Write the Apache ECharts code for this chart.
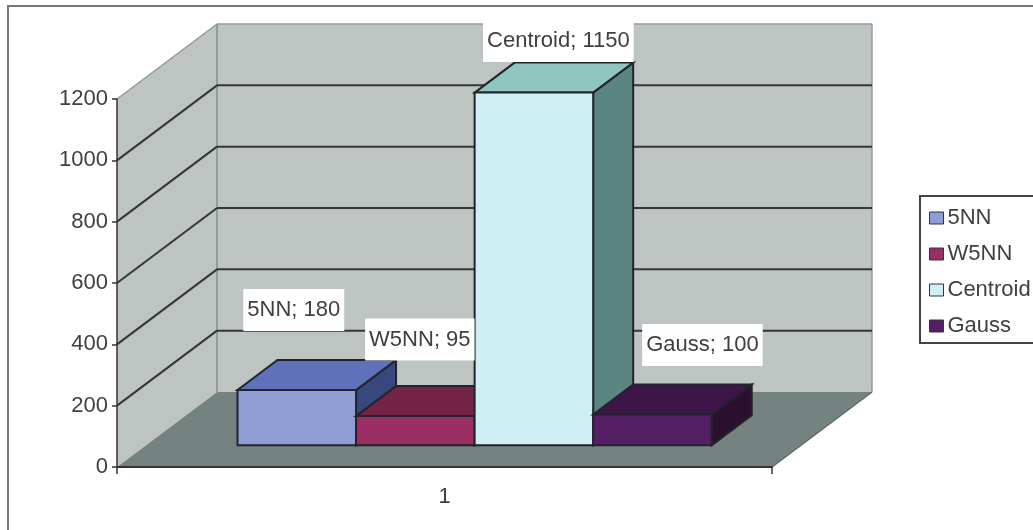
<!DOCTYPE html>
<html>
<head>
<meta charset="utf-8">
<style>
  html, body { margin: 0; padding: 0; background: #fff; }
  #chart { width: 1033px; height: 530px; }
</style>
<script src="https://cdn.jsdelivr.net/npm/echarts@6/dist/echarts.min.js"></script>
</head>
<body>
<div id="chart"></div>
<script>
// Values
const categories = ['1'];
const seriesNames = ['5NN', 'W5NN', 'Centroid', 'Gauss'];
const seriesValues = [180, 95, 1150, 100];
const gridValues = [200, 400, 600, 800, 1000];

// Face colours per series: front, top, side
const frontColors = ['#8E9DD4', '#9B2F63', '#CFEFF5', '#551F66'];
const topColors = ['#6071BC', '#732447', '#90C6C0', '#3E1549'];
const sideColors = ['#38487F', '#4E1830', '#5A8580', '#2B0F2E'];

// Oblique projection of the box: screen shift of the full floor depth
const DEPTH_X = 100;
const DEPTH_Y = -75;
const BAR_DEPTH_FRONT = 0.29;
const BAR_DEPTH_BACK = 0.69;
const BAR_START = 0.1397;
const BAR_SPAN = 0.181;

// Label centre relative to the middle of the bar's front top edge
const labelOffsets = [[-3, -80], [4.5, -76.5], [24.5, -51.5], [50, -69.5]];

const FONT = 'Liberation Sans, Arial, sans-serif';
const FONT_SIZE = 22;
const TEXT_COLOR = '#404040';
const EDGE = '#23232b';

function polygon(points, fill, stroke, width) {
  return {
    type: 'polygon',
    shape: { points: points },
    style: { fill: fill, stroke: stroke || null, lineWidth: width || 0 }
  };
}
function line(a, b, stroke, width) {
  return {
    type: 'line',
    shape: { x1: a[0], y1: a[1], x2: b[0], y2: b[1] },
    style: { stroke: stroke, lineWidth: width, fill: null }
  };
}

// Side wall, back wall and floor with their gridlines
function renderBox(params, api) {
  const cs = params.coordSys;
  const x0 = cs.x;
  const x1 = cs.x + cs.width;
  const y0 = api.coord([0, 0])[1];
  const yTop = cs.y;
  const seam = '#929C99';
  const wall = '#BEC4C1';
  const children = [
    polygon([[x0, y0], [x0 + DEPTH_X, y0 + DEPTH_Y], [x0 + DEPTH_X, yTop + DEPTH_Y], [x0, yTop]], wall),
    polygon([[x0 + DEPTH_X, y0 + DEPTH_Y], [x1 + DEPTH_X, y0 + DEPTH_Y], [x1 + DEPTH_X, yTop + DEPTH_Y], [x0 + DEPTH_X, yTop + DEPTH_Y]], wall),
    polygon([[x0, y0], [x1, y0], [x1 + DEPTH_X, y0 + DEPTH_Y], [x0 + DEPTH_X, y0 + DEPTH_Y]], '#758380'),
    line([x0, yTop], [x0 + DEPTH_X, yTop + DEPTH_Y], seam, 1.5),
    line([x0 + DEPTH_X, yTop + DEPTH_Y], [x1 + DEPTH_X, yTop + DEPTH_Y], seam, 1.5),
    line([x1 + DEPTH_X, yTop + DEPTH_Y], [x1 + DEPTH_X, y0 + DEPTH_Y], seam, 1.5),
    line([x0 + DEPTH_X, yTop + DEPTH_Y], [x0 + DEPTH_X, y0 + DEPTH_Y], seam, 2),
    line([x1, y0], [x1 + DEPTH_X, y0 + DEPTH_Y], '#5f6a68', 1.5)
  ];
  gridValues.forEach(function (v) {
    const y = api.coord([0, v])[1];
    children.push(line([x0, y], [x0 + DEPTH_X, y + DEPTH_Y], '#333635', 2));
    children.push(line([x0 + DEPTH_X, y + DEPTH_Y], [x1 + DEPTH_X, y + DEPTH_Y], '#333635', 2));
  });
  return { type: 'group', children: children };
}

// One box-shaped bar plus its "name; value" label
function barRenderer(index) {
  return function (params, api) {
    const cs = params.coordSys;
    const value = api.value(1);
    const yBase = api.coord([0, 0])[1];
    const yVal = api.coord([0, value])[1];
    const left = cs.x + cs.width * (BAR_START + BAR_SPAN * index);
    const right = left + cs.width * BAR_SPAN;
    const fx = DEPTH_X * BAR_DEPTH_FRONT;
    const fy = DEPTH_Y * BAR_DEPTH_FRONT;
    const bx = DEPTH_X * BAR_DEPTH_BACK;
    const by = DEPTH_Y * BAR_DEPTH_BACK;
    const offset = labelOffsets[index];
    return {
      type: 'group',
      children: [
        polygon([[right + fx, yVal + fy], [right + bx, yVal + by], [right + bx, yBase + by], [right + fx, yBase + fy]], sideColors[index], EDGE, 2),
        polygon([[left + fx, yVal + fy], [left + bx, yVal + by], [right + bx, yVal + by], [right + fx, yVal + fy]], topColors[index], EDGE, 2),
        polygon([[left + fx, yBase + fy], [right + fx, yBase + fy], [right + fx, yVal + fy], [left + fx, yVal + fy]], frontColors[index], EDGE, 2),
        {
          type: 'text',
          z2: 100,
          style: {
            x: (left + right) / 2 + fx + offset[0],
            y: yVal + fy + offset[1],
            text: seriesNames[index] + '; ' + value,
            align: 'center',
            verticalAlign: 'middle',
            fill: TEXT_COLOR,
            font: FONT_SIZE + 'px ' + FONT,
            backgroundColor: '#fff',
            padding: [10, 4]
          }
        }
      ]
    };
  };
}

const series = [{
  type: 'custom',
  name: 'box',
  renderItem: renderBox,
  data: [[0, 0]],
  encode: { x: 0, y: 1 },
  silent: true,
  z: 1,
  clip: false
}];
seriesNames.forEach(function (name, i) {
  series.push({
    type: 'custom',
    name: name,
    renderItem: barRenderer(i),
    data: [[0, seriesValues[i]]],
    encode: { x: 0, y: 1 },
    itemStyle: { color: frontColors[i] },
    z: 2,
    clip: false
  });
});

const chart = echarts.init(document.getElementById('chart'), null, { renderer: 'canvas' });
chart.setOption({
  animation: false,
  backgroundColor: '#fff',
  grid: { left: 117, top: 99, width: 655, height: 368 },
  xAxis: {
    type: 'category',
    data: categories,
    z: 5,
    axisLine: { lineStyle: { color: '#333', width: 2 } },
    axisTick: { show: true, length: 7, lineStyle: { color: '#333', width: 1.5 } },
    axisLabel: { color: TEXT_COLOR, fontFamily: FONT, fontSize: FONT_SIZE, margin: 19 },
    splitLine: { show: false }
  },
  yAxis: {
    type: 'value',
    min: 0,
    max: 1200,
    interval: 200,
    z: 5,
    axisLine: { show: true, lineStyle: { color: '#333', width: 1.5 } },
    axisTick: { show: true, length: 5, lineStyle: { color: '#333', width: 1.5 } },
    axisLabel: {
      color: TEXT_COLOR, fontFamily: FONT, fontSize: FONT_SIZE, margin: 9,
      formatter: function (v) { return String(v); }
    },
    splitLine: { show: false }
  },
  legend: {
    data: seriesNames.map(function (n) { return { name: n, icon: 'rect' }; }),
    orient: 'vertical',
    left: 929,
    top: 207,
    padding: 0,
    itemWidth: 14,
    itemHeight: 12,
    itemGap: 14,
    selectedMode: false,
    itemStyle: { borderColor: '#33333a', borderWidth: 1 },
    textStyle: { color: TEXT_COLOR, fontFamily: FONT, fontSize: FONT_SIZE, padding: [0, 0, 0, -1] }
  },
  graphic: [
    {
      type: 'rect', silent: true, z: -10,
      shape: { x: 8, y: 6, width: 1100, height: 600 },
      style: { fill: '#fff', stroke: '#777', lineWidth: 2 }
    },
    {
      type: 'rect', silent: true, z: -5,
      shape: { x: 920, y: 196, width: 200, height: 147 },
      style: { fill: '#fff', stroke: '#444', lineWidth: 2 }
    }
  ],
  series: series
});
</script>
</body>
</html>
